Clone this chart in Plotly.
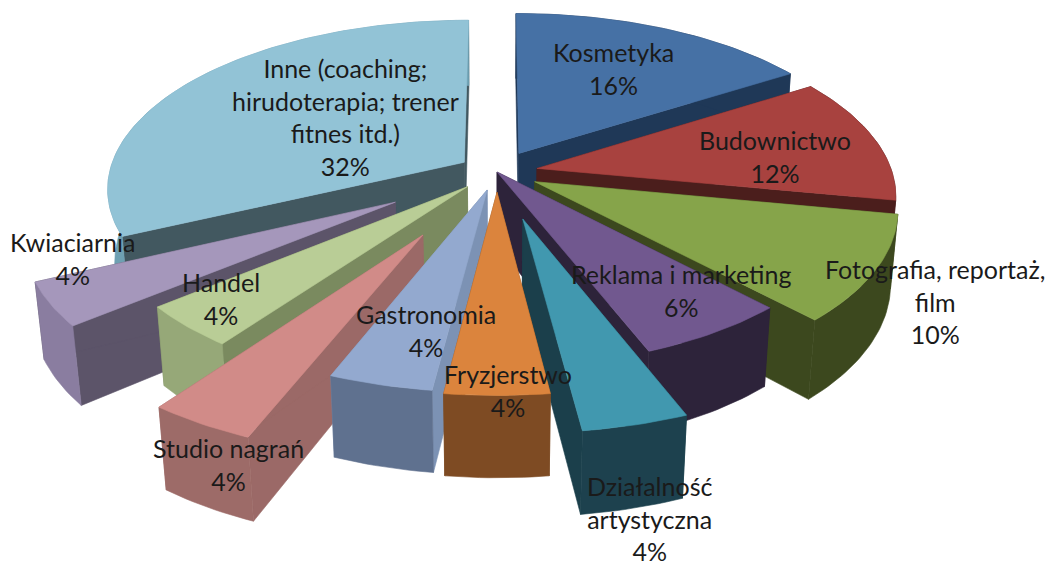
import math
import plotly.graph_objects as go

# ---- data ----
categories = ["Kosmetyka", "Budownictwo", "Fotografia, reportaż, film", "Reklama i marketing",
              "Działalność artystyczna", "Fryzjerstwo", "Gastronomia", "Studio nagrań",
              "Handel", "Kwiaciarnia", "Inne (coaching; hirudoterapia; trener fitnes itd.)"]
values = [16, 12, 10, 6, 4, 4, 4, 4, 4, 4, 32]
explode = [0.13, 0.115, 0.12, 0.0, 0.28, 0.12, 0.11, 0.41, 0.12, 0.33, 0.11]

# ---- style ----
top_colors = ["#4671a5", "#a8423f", "#86a44a", "#71588f", "#4198af", "#db843d",
              "#93a9cf", "#d18b88", "#b9cd96", "#a597bb", "#92c3d6"]
cut_colors = ["#1f3857", "#4b1e1c", "#3c481e", "#2d233a", "#1b3f4b", "#7e4b23",
              "#7c92b4", "#9b6967", "#7a8a5f", "#5c5469", "#425860"]
wall_colors = ["#1f3857", "#4b1e1c", "#3c481e", "#2d233a", "#1d414e", "#7e4b23",
               "#5f718f", "#9d6b68", "#96a878", "#8a7da0", "#6ea0b2"]

label_lines = [["Kosmetyka"], ["Budownictwo"], ["Fotografia, reportaż,", "film"], ["Reklama i marketing"],
               ["Działalność", "artystyczna"], ["Fryzjerstwo"], ["Gastronomia"], ["Studio nagrań"],
               ["Handel"], ["Kwiaciarnia"], ["Inne (coaching;", "hirudoterapia; trener", "fitnes itd.)"]]
label_x = [613, 775, 935, 681, 649, 508, 426, 228, 221, 72, 345]
label_y = [68, 156, 301, 290, 518, 390, 330, 464, 298, 258, 117]

# ---- projection (3-D pie seen from above, with perspective) ----
CX, CY, KX, KY, P, Q, H = 497, 172, 355, 166, 0.15, 0.018, 74


def project(X, Y, bottom=False):
    w = 1 + P * Y + (Q if bottom else 0)
    sx = CX + KX * X / w
    sy = CY - KY * Y / w + (H / w if bottom else 0)
    return sx, sy


total = sum(values)
slices = []
acc = 0
for i, v in enumerate(values):
    a0 = 2 * math.pi * acc / total
    a1 = 2 * math.pi * (acc + v) / total
    acc += v
    mid = (a0 + a1) / 2
    ox, oy = explode[i] * math.sin(mid), explode[i] * math.cos(mid)
    n = max(6, int(v * 3))
    arc = [(ox + math.sin(a0 + (a1 - a0) * k / n), oy + math.cos(a0 + (a1 - a0) * k / n)) for k in range(n + 1)]
    slices.append((i, mid, (ox, oy), arc))

# back to front: largest angular distance from the front (180 deg) first
slices.sort(key=lambda s: -abs(math.pi - s[1]))

fig = go.Figure()


def poly(pts, color):
    fig.add_trace(go.Scatter(x=[p[0] for p in pts] + [pts[0][0]], y=[p[1] for p in pts] + [pts[0][1]],
                             mode="lines", fill="toself", fillcolor=color,
                             line=dict(color=color, width=0.6), hoverinfo="skip", showlegend=False))


for i, mid, tip, arc in slices:
    tt, tb = project(*tip), project(*tip, bottom=True)
    top_arc = [project(*p) for p in arc]
    bot_arc = [project(*p, bottom=True) for p in arc]
    poly([tt, top_arc[0], bot_arc[0], tb], cut_colors[i])
    poly([tt, top_arc[-1], bot_arc[-1], tb], cut_colors[i])
    poly(top_arc + bot_arc[::-1], wall_colors[i])
    poly([tt] + top_arc, top_colors[i])

for i, lines in enumerate(label_lines):
    fig.add_annotation(x=label_x[i], y=label_y[i], text="<br>".join(lines + [f"{values[i]}%"]),
                       showarrow=False, xanchor="center", yanchor="middle", align="center",
                       font=dict(family="Lato", size=25, color="#1a1a1a"))

fig.update_layout(width=1047, height=568, margin=dict(l=0, r=0, t=0, b=0),
                  paper_bgcolor="white", plot_bgcolor="white", showlegend=False,
                  xaxis=dict(range=[0, 1047], visible=False, fixedrange=True),
                  yaxis=dict(range=[568, 0], visible=False, fixedrange=True))
fig.write_html("out.html", config=dict(displayModeBar=False),
               post_script="document.body.style.margin='0';document.body.style.overflow='hidden';")
